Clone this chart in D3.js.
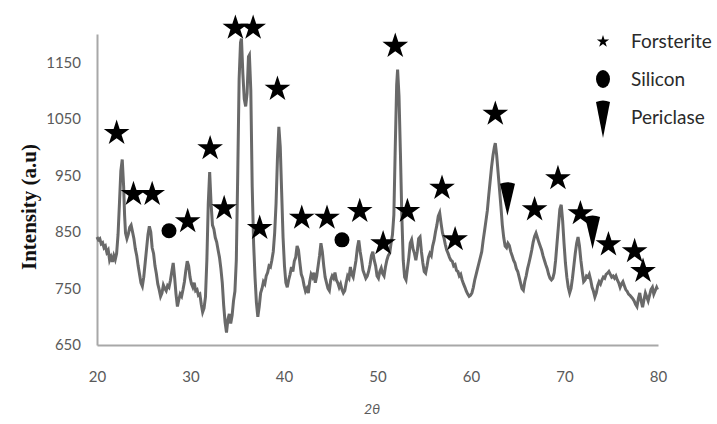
<!DOCTYPE html>
<html>
<head>
<meta charset="utf-8">
<script src="https://cdn.jsdelivr.net/npm/d3@7/dist/d3.min.js"></script>
<style>
  html, body { margin: 0; padding: 0; background: #fff; }
  svg { display: block; }
</style>
</head>
<body>
<svg id="chart" width="717" height="424"></svg>
<script>
// XRD pattern: 2θ (degrees) and intensity (a.u.)
const twoTheta = [
  20.0, 20.15, 20.3, 20.45, 20.6, 20.75, 20.9, 21.05, 21.2, 21.35, 21.5, 21.65, 21.8, 21.95, 22.1,
  22.25, 22.4, 22.55, 22.7, 22.85, 22.95, 23.05, 23.2, 23.35, 23.5, 23.65, 23.8, 23.95, 24.1, 24.25,
  24.4, 24.55, 24.7, 24.85, 25.0, 25.15, 25.3, 25.45, 25.6, 25.75, 25.9, 26.05, 26.2, 26.35, 26.5,
  26.65, 26.8, 26.95, 27.1, 27.25, 27.4, 27.55, 27.7, 27.85, 28.0, 28.15, 28.3, 28.45, 28.6, 28.75,
  28.9, 29.05, 29.2, 29.35, 29.5, 29.65, 29.8, 29.95, 30.1, 30.25, 30.4, 30.55, 30.7, 30.85, 31.0,
  31.15, 31.3, 31.45, 31.6, 31.75, 31.9, 32.05, 32.2, 32.35, 32.5, 32.65, 32.8, 32.95, 33.1, 33.25,
  33.4, 33.55, 33.7, 33.85, 34.0, 34.15, 34.3, 34.45, 34.6, 34.75, 34.9, 35.05, 35.2, 35.35, 35.45,
  35.6, 35.75, 35.9, 36.05, 36.2, 36.3, 36.45, 36.6, 36.75, 36.9, 37.05, 37.2, 37.35, 37.5, 37.65,
  37.8, 37.95, 38.1, 38.25, 38.4, 38.55, 38.7, 38.85, 39.0, 39.15, 39.3, 39.45, 39.6, 39.75, 39.9,
  40.05, 40.2, 40.35, 40.5, 40.65, 40.8, 40.95, 41.1, 41.25, 41.4, 41.55, 41.7, 41.85, 42.0, 42.15,
  42.3, 42.45, 42.6, 42.75, 42.9, 43.05, 43.2, 43.35, 43.5, 43.65, 43.8, 43.95, 44.1, 44.25, 44.4,
  44.55, 44.7, 44.85, 45.0, 45.15, 45.3, 45.45, 45.6, 45.75, 45.9, 46.05, 46.2, 46.35, 46.5, 46.65,
  46.8, 46.95, 47.1, 47.25, 47.4, 47.55, 47.7, 47.85, 48.0, 48.15, 48.3, 48.45, 48.6, 48.75, 48.9,
  49.05, 49.2, 49.35, 49.5, 49.65, 49.8, 49.95, 50.1, 50.25, 50.4, 50.55, 50.7, 50.85, 51.0, 51.15,
  51.3, 51.45, 51.6, 51.75, 51.9, 52.05, 52.15, 52.3, 52.45, 52.6, 52.75, 52.9, 53.05, 53.2, 53.35,
  53.5, 53.65, 53.8, 53.95, 54.1, 54.25, 54.4, 54.55, 54.7, 54.85, 55.0, 55.15, 55.3, 55.45, 55.6,
  55.75, 55.9, 56.05, 56.2, 56.35, 56.5, 56.65, 56.8, 56.95, 57.1, 57.25, 57.4, 57.55, 57.7, 57.85,
  58.0, 58.15, 58.3, 58.45, 58.6, 58.75, 58.9, 59.05, 59.2, 59.35, 59.5, 59.65, 59.8, 59.95, 60.1,
  60.25, 60.4, 60.55, 60.7, 60.85, 61.0, 61.15, 61.3, 61.45, 61.6, 61.75, 61.9, 62.05, 62.2, 62.35,
  62.5, 62.6, 62.75, 62.9, 63.05, 63.2, 63.35, 63.5, 63.65, 63.8, 63.95, 64.1, 64.25, 64.4, 64.55,
  64.7, 64.85, 65.0, 65.15, 65.3, 65.45, 65.6, 65.75, 65.9, 66.05, 66.2, 66.35, 66.5, 66.65, 66.8,
  66.95, 67.1, 67.25, 67.4, 67.55, 67.7, 67.85, 68.0, 68.15, 68.3, 68.45, 68.6, 68.75, 68.9, 69.05,
  69.2, 69.35, 69.5, 69.65, 69.8, 69.95, 70.1, 70.25, 70.4, 70.55, 70.7, 70.85, 71.0, 71.15, 71.3,
  71.45, 71.6, 71.75, 71.9, 72.05, 72.2, 72.35, 72.5, 72.65, 72.8, 72.95, 73.1, 73.25, 73.4, 73.55,
  73.7, 73.85, 74.0, 74.15, 74.3, 74.45, 74.6, 74.75, 74.9, 75.05, 75.2, 75.35, 75.5, 75.65, 75.8,
  75.95, 76.1, 76.25, 76.4, 76.55, 76.7, 76.85, 77.0, 77.15, 77.3, 77.45, 77.6, 77.75, 77.9, 78.05,
  78.2, 78.35, 78.5, 78.65, 78.8, 78.95, 79.1, 79.25, 79.4, 79.55, 79.7, 79.85, 79.95
];
const intensity = [
  841, 836, 838, 829, 831, 822, 825, 814, 818, 800, 806, 797, 808, 801, 812,
  845, 900, 958, 978, 930, 880, 848, 838, 846, 858, 862, 850, 838, 820, 808,
  790, 775, 760, 754, 770, 795, 820, 845, 860, 850, 822, 812, 790, 776, 758,
  748, 736, 742, 756, 750, 746, 755, 752, 764, 780, 795, 770, 740, 718, 730,
  740, 736, 748, 762, 782, 798, 790, 770, 758, 752, 760, 746, 748, 738, 740,
  722, 708, 715, 735, 800, 900, 956, 900, 862, 855, 840, 832, 818, 805, 785,
  760, 720, 690, 672, 695, 705, 688, 702, 728, 745, 800, 950, 1120, 1185, 1192,
  1130, 1085, 1072, 1095, 1160, 1163, 1100, 930, 830, 770, 725, 700, 718, 742, 750,
  762, 758, 772, 778, 790, 788, 800, 815, 848, 900, 980, 1036, 1000, 920, 840,
  790, 760, 752, 765, 775, 788, 780, 798, 805, 825, 818, 795, 775, 768, 755,
  745, 750, 742, 762, 775, 770, 778, 760, 772, 790, 808, 830, 815, 790, 770,
  760, 750, 746, 765, 772, 768, 778, 765, 760, 752, 758, 748, 742, 746, 760,
  772, 768, 788, 775, 770, 785, 800, 822, 835, 815, 800, 782, 775, 768, 772,
  780, 792, 808, 815, 800, 790, 772, 768, 780, 786, 776, 772, 788, 800, 808,
  812, 830, 845, 880, 1000, 1110, 1137, 1090, 990, 880, 800, 770, 765, 785, 805,
  830, 836, 820, 812, 800, 815, 838, 841, 815, 795, 780, 777, 790, 805, 812,
  808, 825, 835, 850, 862, 878, 884, 865, 848, 840, 828, 818, 812, 805, 800,
  798, 790, 792, 782, 780, 772, 775, 765, 758, 752, 745, 740, 736, 738, 742,
  752, 765, 775, 785, 795, 805, 815, 835, 852, 870, 888, 915, 940, 965, 985,
  1000, 1007, 985, 955, 925, 895, 862, 840, 825, 822, 830, 826, 815, 808, 800,
  795, 785, 780, 770, 760, 750, 747, 762, 772, 785, 795, 806, 818, 832, 842,
  848, 840, 832, 825, 818, 808, 800, 792, 785, 775, 768, 765, 768, 778, 800,
  830, 860, 890, 898, 870, 830, 795, 770, 752, 742, 750, 768, 790, 812, 830,
  841, 825, 800, 780, 762, 765, 772, 770, 775, 765, 752, 745, 735, 742, 755,
  762, 758, 765, 770, 768, 775, 777, 780, 775, 770, 772, 768, 772, 765, 760,
  752, 758, 762, 755, 748, 745, 740, 738, 735, 732, 728, 722, 718, 732, 742,
  728, 717, 730, 742, 735, 728, 738, 748, 752, 740, 746, 752, 748
];

// Phase markers placed above the peaks (2θ, intensity)
const forsteriteTheta = [22.1, 23.9, 25.9, 29.7, 32.1, 33.6, 34.8, 36.7, 37.4, 39.3, 41.9, 44.6, 48.1,
                         50.6, 51.9, 53.2, 56.9, 58.3, 62.6, 66.8, 69.3, 71.7, 74.7, 77.5, 78.4];
const forsteriteInt   = [1027, 919, 919, 871, 1000, 894, 1213, 1213, 859, 1105, 877, 877, 889,
                         832, 1181, 889, 930, 839, 1061, 892, 947, 885, 830, 818, 783];
const siliconTheta = [27.7, 46.2];
const siliconInt   = [852, 836];
const periclaseTheta = [63.9, 73.0];
const periclaseInt   = [907, 848];

const xTicks = [20, 30, 40, 50, 60, 70, 80];
const yTicks = [650, 750, 850, 950, 1050, 1150];
const legendLabels = ["Forsterite", "Silicon", "Periclase"];

const svg = d3.select("#chart");
const x = d3.scaleLinear().domain([20, 80]).range([97, 658]);
const y = d3.scaleLinear().domain([650, 1200]).range([345, 34]);

// axes
const axisColor = "#a8a8a8";
const tickColor = "#5a5a5a";
const sans = "Lato, 'Open Sans', sans-serif";

const gx = svg.append("g").attr("transform", `translate(0,${y(650)})`)
  .call(d3.axisBottom(x).tickValues(xTicks).tickSize(0).tickPadding(26).tickFormat(d3.format("d")));
const gy = svg.append("g").attr("transform", `translate(${x(20)},0)`)
  .call(d3.axisLeft(y).tickValues(yTicks).tickSize(0).tickPadding(16).tickFormat(d3.format("d")));

[gx, gy].forEach(g => {
  g.select(".domain").attr("stroke", axisColor).attr("stroke-width", 2);
  g.selectAll("text").attr("fill", tickColor).style("font-family", sans).style("font-size", "15px");
});

// axis titles
svg.append("text")
  .attr("transform", `translate(36,207) rotate(-90)`)
  .attr("text-anchor", "middle")
  .style("font-family", "'Liberation Serif', 'DejaVu Serif', serif")
  .style("font-weight", "bold")
  .style("font-size", "21px")
  .attr("fill", "#111")
  .text("Intensity (a.u)");

svg.append("text")
  .attr("x", 372).attr("y", 414)
  .attr("text-anchor", "middle")
  .style("font-family", sans)
  .style("font-style", "italic")
  .style("font-size", "14px")
  .attr("fill", tickColor)
  .text("2θ");

// diffraction pattern
const pattern = twoTheta.map((t, i) => [t, intensity[i]]);
svg.append("path")
  .datum(pattern)
  .attr("fill", "none")
  .attr("stroke", "#696969")
  .attr("stroke-width", 3)
  .attr("stroke-linejoin", "miter")
  .attr("d", d3.line().x(d => x(d[0])).y(d => y(d[1])));

// markers
const starSize = r => r * r / 0.8908130915292852;
const star = d3.symbol().type(d3.symbolStar).size(starSize(13.5));
const wedge = (w, h) => `M${-w / 2},${-h / 2} Q0,${-h / 2 - 3} ${w / 2},${-h / 2} L0,${h / 2} Z`;

svg.append("g").selectAll("path")
  .data(forsteriteTheta.map((t, i) => [t, forsteriteInt[i]]))
  .join("path")
  .attr("transform", d => `translate(${x(d[0])},${y(d[1]) + 1.3})`)
  .attr("d", star)
  .attr("fill", "#000");

svg.append("g").selectAll("circle")
  .data(siliconTheta.map((t, i) => [t, siliconInt[i]]))
  .join("circle")
  .attr("cx", d => x(d[0])).attr("cy", d => y(d[1]))
  .attr("r", 7.5)
  .attr("fill", "#000");

svg.append("g").selectAll("path")
  .data(periclaseTheta.map((t, i) => [t, periclaseInt[i]]))
  .join("path")
  .attr("transform", d => `translate(${x(d[0])},${y(d[1])})`)
  .attr("d", wedge(15, 32))
  .attr("fill", "#000");

// legend
const legend = svg.append("g").attr("transform", "translate(603,0)");
const legendY = [41, 79, 117];
legend.append("path").attr("transform", `translate(0,${legendY[0] + 0.6})`)
  .attr("d", d3.symbol().type(d3.symbolStar).size(starSize(6.5))).attr("fill", "#000");
legend.append("ellipse").attr("cx", 0).attr("cy", legendY[1]).attr("rx", 7).attr("ry", 9).attr("fill", "#000");
legend.append("path").attr("transform", `translate(0,${legendY[2] + 3})`)
  .attr("d", wedge(14, 36)).attr("fill", "#000");
legend.selectAll("text")
  .data(legendLabels)
  .join("text")
  .attr("x", 28)
  .attr("y", (d, i) => legendY[i])
  .attr("dy", "0.35em")
  .style("font-family", sans)
  .style("font-size", "19px")
  .attr("fill", "#2a2a2a")
  .text(d => d);
</script>
</body>
</html>
